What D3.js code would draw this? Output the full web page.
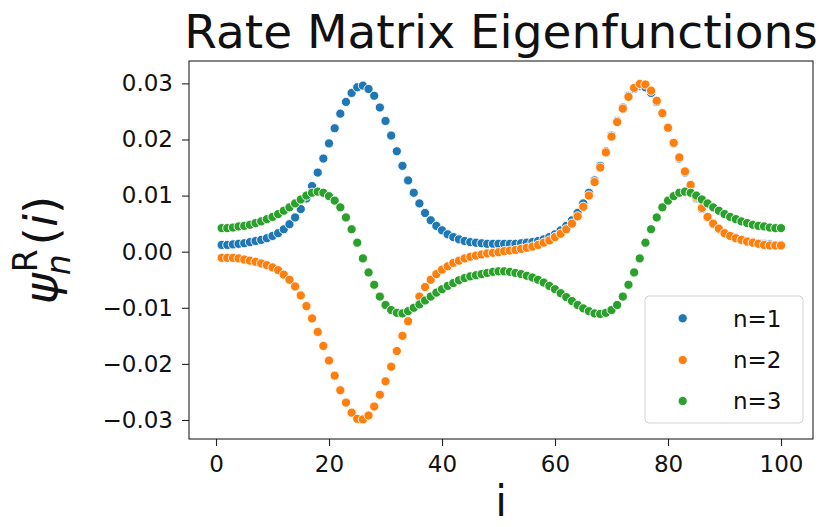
<!DOCTYPE html>
<html>
<head>
<meta charset="utf-8">
<script src="https://cdn.jsdelivr.net/npm/d3@7"></script>
<style>
  html, body { margin: 0; padding: 0; background: #fff; }
  svg { display: block; font-family: "DejaVu Sans", sans-serif; }
</style>
</head>
<body>
<svg id="chart" width="822" height="527"></svg>
<script>
// ---- data ----
const title = "Rate Matrix Eigenfunctions";
const seriesNames = ["n=1", "n=2", "n=3"];
const seriesColors = ["#1f77b4", "#ff7f0e", "#2ca02c"];
const iValues = d3.range(1, 101);
const psi1 = [
  0.0012, 0.0012, 0.0013, 0.0014, 0.0015, 0.0017, 0.0019, 0.0021, 0.0024, 0.0028,
  0.0033, 0.0040, 0.0049, 0.0061, 0.0076, 0.0095, 0.0117, 0.0141, 0.0166, 0.0193,
  0.0220, 0.0246, 0.0267, 0.0283, 0.0293, 0.0296, 0.0290, 0.0278, 0.0257, 0.0233,
  0.0207, 0.0179, 0.0153, 0.0127, 0.0105, 0.0086, 0.0069, 0.0056, 0.0046, 0.0038,
  0.0031, 0.0026, 0.0022, 0.0019, 0.0017, 0.0016, 0.0015, 0.0014, 0.0014, 0.0014,
  0.0014, 0.0014, 0.0014, 0.0015, 0.0016, 0.0017, 0.0019, 0.0022, 0.0026, 0.0031,
  0.0038, 0.0046, 0.0056, 0.0069, 0.0086, 0.0105, 0.0127, 0.0153, 0.0179, 0.0207,
  0.0233, 0.0257, 0.0278, 0.0290, 0.0296, 0.0293, 0.0283, 0.0267, 0.0246, 0.0220,
  0.0193, 0.0166, 0.0141, 0.0117, 0.0095, 0.0076, 0.0061, 0.0049, 0.0040, 0.0033,
  0.0028, 0.0024, 0.0021, 0.0019, 0.0017, 0.0015, 0.0014, 0.0013, 0.0012, 0.0012
];
const psi2 = [
  -0.0011, -0.0011, -0.0011, -0.0012, -0.0014, -0.0016, -0.0018, -0.0021, -0.0024, -0.0028,
  -0.0033, -0.0041, -0.0050, -0.0062, -0.0078, -0.0097, -0.0119, -0.0143, -0.0168, -0.0194,
  -0.0221, -0.0247, -0.0269, -0.0287, -0.0298, -0.0299, -0.0292, -0.0276, -0.0255, -0.0231,
  -0.0205, -0.0177, -0.0150, -0.0124, -0.0100, -0.0080, -0.0063, -0.0050, -0.0040, -0.0032,
  -0.0026, -0.0020, -0.0016, -0.0012, -0.0009, -0.0007, -0.0005, -0.0003, -0.0002, -0.0001,
  0.0001, 0.0002, 0.0003, 0.0005, 0.0007, 0.0009, 0.0012, 0.0016, 0.0020, 0.0026,
  0.0032, 0.0040, 0.0050, 0.0063, 0.0080, 0.0100, 0.0124, 0.0150, 0.0177, 0.0205,
  0.0231, 0.0255, 0.0276, 0.0292, 0.0299, 0.0298, 0.0287, 0.0269, 0.0247, 0.0221,
  0.0194, 0.0168, 0.0143, 0.0119, 0.0097, 0.0078, 0.0062, 0.0050, 0.0041, 0.0033,
  0.0028, 0.0024, 0.0021, 0.0018, 0.0016, 0.0014, 0.0012, 0.0011, 0.0011, 0.0011
];
const psi3 = [
  0.0042, 0.0042, 0.0043, 0.0045, 0.0046, 0.0048, 0.0051, 0.0054, 0.0058, 0.0062,
  0.0067, 0.0073, 0.0079, 0.0086, 0.0093, 0.0100, 0.0105, 0.0107, 0.0105, 0.0099,
  0.0091, 0.0079, 0.0061, 0.0040, 0.0016, -0.0012, -0.0037, -0.0059, -0.0080, -0.0095,
  -0.0104, -0.0109, -0.0110, -0.0106, -0.0100, -0.0094, -0.0087, -0.0080, -0.0073, -0.0067,
  -0.0061, -0.0056, -0.0051, -0.0047, -0.0044, -0.0042, -0.0040, -0.0038, -0.0036, -0.0035,
  -0.0035, -0.0036, -0.0038, -0.0040, -0.0043, -0.0046, -0.0050, -0.0055, -0.0061, -0.0067,
  -0.0074, -0.0081, -0.0088, -0.0095, -0.0101, -0.0106, -0.0110, -0.0111, -0.0109, -0.0104,
  -0.0095, -0.0080, -0.0059, -0.0037, -0.0012, 0.0016, 0.0040, 0.0061, 0.0079, 0.0091,
  0.0099, 0.0105, 0.0107, 0.0105, 0.0100, 0.0093, 0.0086, 0.0079, 0.0073, 0.0067,
  0.0062, 0.0058, 0.0054, 0.0051, 0.0048, 0.0046, 0.0045, 0.0043, 0.0042, 0.0042
];
const xTicks = [0, 20, 40, 60, 80, 100];
const yTicks = [-0.03, -0.02, -0.01, 0.00, 0.01, 0.02, 0.03];

// ---- layout ----
const svg = d3.select("#chart");
const L = 189, R = 813, T = 61, B = 439;
const x = d3.scaleLinear().domain([-4.78, 105.66]).range([L, R]);
const y = d3.scaleLinear().domain([-0.03339, 0.03399]).range([B, T]);

const allSeries = [psi1, psi2, psi3];

// points: each series drawn in order
allSeries.forEach((vals, s) => {
  svg.append("g").selectAll("circle")
    .data(iValues.map((iv, k) => ({ i: iv, v: vals[k] })))
    .join("circle")
    .attr("cx", d => x(d.i))
    .attr("cy", d => y(d.v))
    .attr("r", 4.6)
    .attr("fill", seriesColors[s])
    .attr("stroke", "#fff")
    .attr("stroke-width", 0.9);
});

// axes
const fmt = d => (d < 0 ? "\u2212" : "") + Math.abs(d).toFixed(2);
const gx = svg.append("g").attr("transform", `translate(0,${B})`)
  .call(d3.axisBottom(x).tickValues(xTicks).tickSize(7).tickPadding(10).tickSizeOuter(0));
const gy = svg.append("g").attr("transform", `translate(${L},0)`)
  .call(d3.axisLeft(y).tickValues(yTicks).tickFormat(fmt).tickSize(7).tickPadding(9).tickSizeOuter(0));
[gx, gy].forEach(g => {
  g.select(".domain").remove();
  g.selectAll("line").attr("stroke", "#222").attr("stroke-width", 1.1);
  g.selectAll("text").attr("font-size", 23).attr("fill", "#111")
    .attr("font-family", "DejaVu Sans");
});

// frame
svg.append("rect").attr("x", L).attr("y", T).attr("width", R - L).attr("height", B - T)
  .attr("fill", "none").attr("stroke", "#222").attr("stroke-width", 1.1);

// title
svg.append("text").attr("x", (L + R) / 2).attr("y", 48)
  .attr("text-anchor", "middle").attr("font-size", 47).attr("fill", "#111")
  .text(title);

// x label
svg.append("text").attr("x", (L + R) / 2).attr("y", 516)
  .attr("text-anchor", "middle").attr("font-size", 42).attr("fill", "#111")
  .text("i");

// y label: psi_n^R(i)
const yl = svg.append("g").attr("transform", `translate(57,${(T + B) / 2}) rotate(-90)`);
const psiT = yl.append("text").attr("font-size", 47).attr("font-style", "italic").attr("fill", "#111").text("\u03c8");
const wPsi = psiT.node().getComputedTextLength();
const supT = yl.append("text").attr("font-size", 33).attr("fill", "#111").attr("y", -20).text("R");
const subT = yl.append("text").attr("font-size", 33).attr("font-style", "italic").attr("fill", "#111").attr("y", 13).text("n");
const wScr = Math.max(supT.node().getComputedTextLength(), subT.node().getComputedTextLength());
const restT = yl.append("text").attr("font-size", 47).attr("fill", "#111");
restT.append("tspan").text("(");
restT.append("tspan").attr("font-style", "italic").text("i");
restT.append("tspan").text(")");
const wRest = restT.node().getComputedTextLength();
const total = wPsi + 1 + wScr + 4 + wRest;
const x0 = -total / 2;
psiT.attr("x", x0);
supT.attr("x", x0 + wPsi + 1);
subT.attr("x", x0 + wPsi - 2);
restT.attr("x", x0 + wPsi + 1 + wScr + 4);

// legend
const lg = svg.append("g");
lg.append("rect").attr("x", 645).attr("y", 296).attr("width", 158).attr("height", 127)
  .attr("rx", 4).attr("fill", "#fff").attr("fill-opacity", 0.8)
  .attr("stroke", "#d3d3d3").attr("stroke-width", 1);
const rowY = [318.3, 360, 401];
seriesNames.forEach((name, s) => {
  lg.append("circle").attr("cx", 682.7).attr("cy", rowY[s]).attr("r", 4.6)
    .attr("fill", seriesColors[s]).attr("stroke", "#fff").attr("stroke-width", 0.9);
  lg.append("text").attr("x", 733).attr("y", rowY[s] + 8.4)
    .attr("font-size", 23).attr("fill", "#111").text(name);
});
</script>
</body>
</html>
